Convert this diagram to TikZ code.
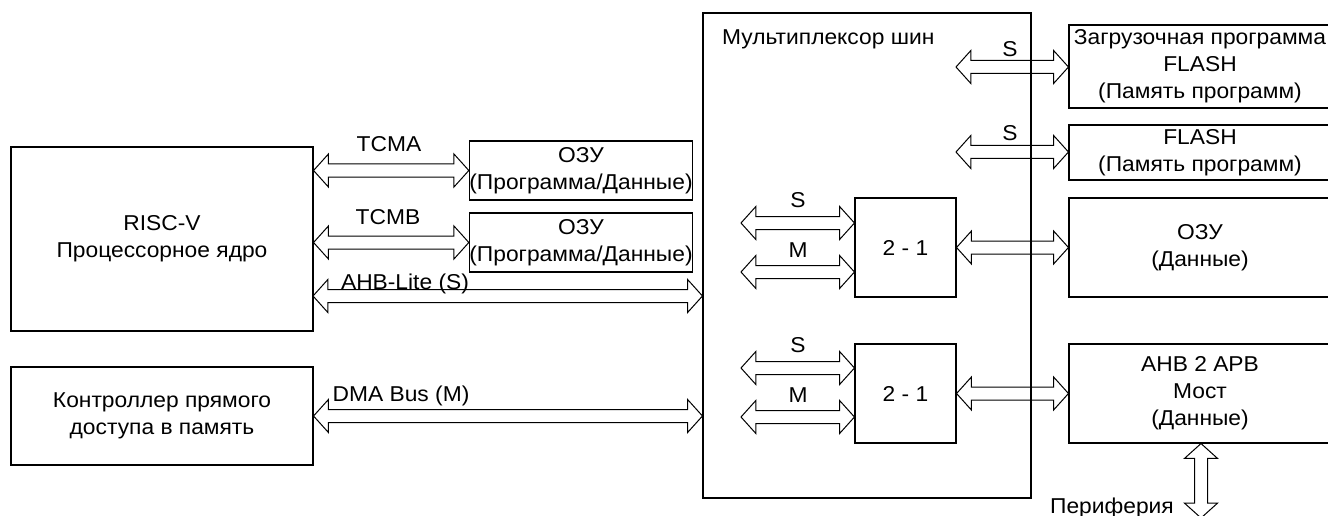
\documentclass[tikz,border=0pt]{standalone}
\usepackage{fontspec}
\setmainfont[FakeStretch=1.06]{Liberation Sans}
\usetikzlibrary{positioning,calc,shapes.arrows}

\begin{document}
\begin{tikzpicture}
    [ x=1pt, y=-1pt
    , font=\fontsize{21.5}{27}\selectfont
    , box/.style={draw, line width=1.1pt, inner sep=0pt, align=center}
    , busarrow/.style={double arrow, draw, line width=1pt, inner xsep=0pt, inner ysep=6pt,
        double arrow head extend=10pt, double arrow tip angle=96}
    , bus/.style={to path={let \p1=(\tikztostart), \p2=(\tikztotarget),
        \n1={veclen(\x2-\x1,\y2-\y1)}, \n2={atan2(\y2-\y1,\x2-\x1)} in
        ($(\p1)!.5!(\p2)$) node[busarrow, minimum height=\n1, rotate=\n2] {} (\p2)}}
    , lbl/.style={anchor=base, inner sep=0pt}
    ]
  \useasboundingbox (0,0) rectangle (1328,516);

  % core and dma
  \node[box, minimum width=302, minimum height=184] (risc) at (162,239) {RISC-V\\Процессорное ядро};
  \node[box, minimum width=302, minimum height=98] (dma) at (162,416) {Контроллер прямого\\доступа в память};

  % tightly coupled memories
  \node[box, minimum width=222, minimum height=59] (tcmram) at (581,170.5) {ОЗУ\\(Программа/Данные)};
  \node[box, minimum width=222, minimum height=59] (tcmbram) at (581,242.5) {ОЗУ\\(Программа/Данные)};

  % bus matrix
  \node[box, minimum width=328, minimum height=485] (mux) at (867,255.5) {};
  \node[anchor=base west, inner sep=0pt] (muxname) at (722,45) {Мультиплексор шин};
  \node[box, minimum width=101, minimum height=99] (sela) at (905.5,247.5) {2 - 1};
  \node[box, minimum width=101, minimum height=99] (selb) at (905.5,393.5) {2 - 1};

  % slaves
  \node[box, minimum width=262, minimum height=83] (boot) at (1200,66.5) {Загрузочная программа\\FLASH\\(Память программ)};
  \node[box, minimum width=262, minimum height=55] (flash) at (1200,152.5) {FLASH\\(Память программ)};
  \node[box, minimum width=262, minimum height=99] (ram) at (1200,247.5) {ОЗУ\\(Данные)};
  \node[box, minimum width=262, minimum height=99] (bridge) at (1200,393.5) {AHB 2 APB\\Мост\\(Данные)};

  % free ends
  \coordinate (ahb) at (313,296);
  \coordinate (bootin) at (956,67);
  \coordinate (flashin) at (956,152);
  \coordinate (sas) at (741,223);
  \coordinate (sam) at (741,272);
  \coordinate (sbs) at (741,368);
  \coordinate (sbm) at (741,417);
  \coordinate (periph) at (1201,518);

  % buses
  \draw (risc.east |- tcmram) to[bus] (tcmram.west);
  \draw (risc.east |- tcmbram) to[bus] (tcmbram.west);
  \draw (ahb) to[bus] (mux.west |- ahb);
  \draw (dma.east) to[bus] (mux.west |- dma.east);
  \draw (bootin) to[bus] (boot.west |- bootin);
  \draw (flashin) to[bus] (flash.west |- flashin);
  \draw (sas) to[bus] (sela.west |- sas);
  \draw (sam) to[bus] (sela.west |- sam);
  \draw (sbs) to[bus] (selb.west |- sbs);
  \draw (sbm) to[bus] (selb.west |- sbm);
  \draw (sela.east) to[bus] (ram.west);
  \draw (selb.east) to[bus] (bridge.west);
  \draw (bridge.south -| periph) to[bus] (periph);

  % bus names
  \node[lbl] (ltcma) at (389,152) {TCMA};
  \node[lbl] (ltcmb) at (388,224) {TCMB};
  \node[lbl] (lahb) at (405,289) {AHB-Lite (S)};
  \node[lbl] (ldma) at (401,401) {DMA Bus (M)};
  \node[lbl] (lboot) at (1010,57) {S};
  \node[lbl] (lflash) at (1010,141) {S};
  \node[lbl] (las) at (798,207) {S};
  \node[lbl] (lam) at (798,257) {M};
  \node[lbl] (lbs) at (798,352) {S};
  \node[lbl] (lbm) at (798,402) {M};
  \node[anchor=base east, inner sep=0pt] (lperiph) at (1174,513) {Периферия};
\end{tikzpicture}
\end{document}
